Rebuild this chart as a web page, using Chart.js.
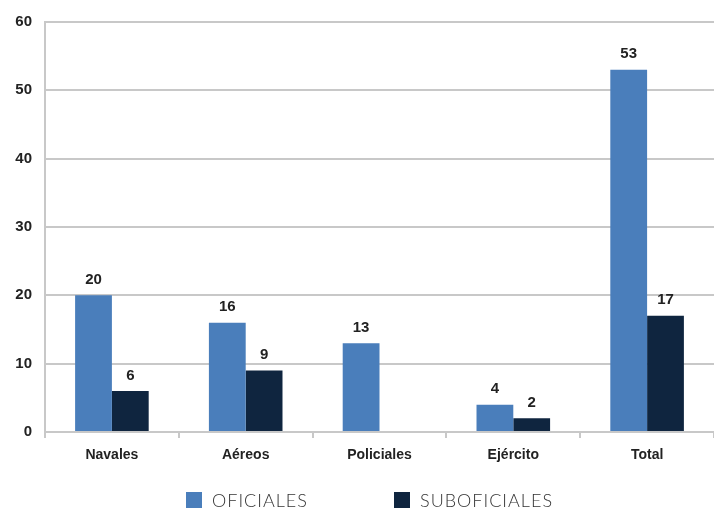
<!DOCTYPE html>
<html>
<head>
<meta charset="utf-8">
<script src="https://cdn.jsdelivr.net/npm/chart.js@4/dist/chart.umd.min.js"></script>
<style>
  html, body { margin: 0; padding: 0; background: #fff; }
  #wrap { position: relative; width: 714px; height: 510px; }
  #legend { position: absolute; left: 0; top: 489px; width: 714px; height: 24px;
            font-family: Lato, "Open Sans", sans-serif; font-size: 18px; font-weight: 300;
            letter-spacing: 1px; color: #333; }
  .item { position: absolute; top: 0; display: flex; align-items: center; }
  .box { width: 16px; height: 16px; margin-right: 10px; }
</style>
</head>
<body>
<div id="wrap">
  <canvas id="chart" width="714" height="510"></canvas>
  <div id="legend"></div>
</div>
<script>
// DATA
var categories = ['Navales', 'Aéreos', 'Policiales', 'Ejército', 'Total'];
var oficiales = [20, 16, 13, 4, 53];
var suboficiales = [6, 9, null, 2, 17];
var yTicks = [0, 10, 20, 30, 40, 50, 60];

document.addEventListener('DOMContentLoaded', function(){

var ctx = document.getElementById('chart').getContext('2d');

// value labels above each bar
var barValues = {
    id: 'barValues',
    afterDatasetsDraw: function(chart) {
        var c = chart.ctx;
        c.save();
        c.font = 'bold 15px "Liberation Sans", Arial, sans-serif';
        c.fillStyle = '#222';
        c.textAlign = 'center';
        c.textBaseline = 'bottom';
        chart.data.datasets.forEach(function(ds, i) {
            chart.getDatasetMeta(i).data.forEach(function(bar, j) {
                var v = ds.data[j];
                if (v === null || v === undefined) return;
                c.fillText(v, bar.x, bar.y - 8);
            });
        });
        c.restore();
    }
};

var chart = new Chart(ctx, {
    type: 'bar',
    data: {
        labels: categories,
        datasets: [{
            label: 'OFICIALES',
            backgroundColor: 'rgb(74, 126, 187)',
            data: oficiales
        }, {
            label: 'SUBOFICIALES',
            backgroundColor: 'rgb(15, 37, 63)',
            data: suboficiales
        }]
    },
    options: {
        responsive: false,
        animation: false,
        layout: { padding: { left: 0, top: 14, right: 0, bottom: 38 } },
        plugins: {
            legend: { display: false },
            tooltip: { enabled: false }
        },
        datasets: {
            bar: { categoryPercentage: 0.55, barPercentage: 1 }
        },
        scales: {
            x: {
                grid: { drawOnChartArea: false, color: '#c8c8c8', lineWidth: 2, tickLength: 6 },
                border: { color: '#c8c8c8', width: 2 },
                ticks: {
                    color: '#222', padding: 9,
                    font: { family: '"Liberation Sans", Arial, sans-serif', size: 14, weight: 'bold' }
                },
                afterFit: function(scale) { scale.height = 40; }
            },
            y: {
                min: 0, max: 60,
                afterBuildTicks: function(scale) {
                    scale.ticks = yTicks.map(function(v) { return { value: v }; });
                },
                grid: { color: '#c8c8c8', lineWidth: 2, drawTicks: false },
                border: { color: '#c8c8c8', width: 2 },
                ticks: {
                    color: '#222', padding: 13,
                    font: { family: '"Liberation Sans", Arial, sans-serif', size: 15, weight: 'bold' }
                },
                afterFit: function(scale) { scale.width = 45; }
            }
        }
    },
    plugins: [barValues]
});

// HTML legend built from the datasets
var legend = document.getElementById('legend');
var lefts = [186, 394];
chart.data.datasets.forEach(function(ds, i) {
    var item = document.createElement('div');
    item.className = 'item';
    item.style.left = lefts[i] + 'px';
    var box = document.createElement('span');
    box.className = 'box';
    box.style.background = ds.backgroundColor;
    var txt = document.createElement('span');
    txt.textContent = ds.label;
    item.appendChild(box);
    item.appendChild(txt);
    legend.appendChild(item);
});

});
</script>
</body>
</html>
